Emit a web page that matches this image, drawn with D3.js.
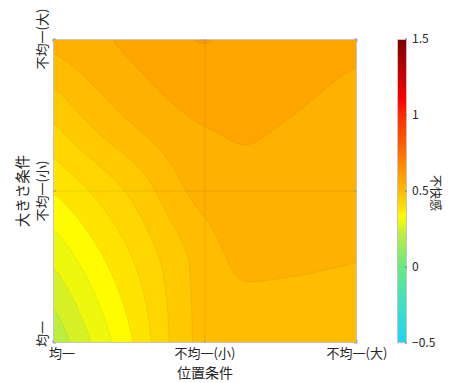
<!DOCTYPE html>
<html>
<head>
<meta charset="utf-8">
<script src="https://cdn.jsdelivr.net/npm/d3@7"></script>
<style>
  body { margin: 0; background: #fff; }
  text { font-family: "Noto Sans CJK JP", "Noto Sans", sans-serif; fill: #262626; }
</style>
</head>
<body>
<div id="chart"></div>
<script>
// tick labels of both condition axes
const xLabels = ["均一", "不均一(小)", "不均一(大)"];
const yLabels = ["均一", "不均一(小)", "不均一(大)"];

// where the values were read, in category units (0 = 均一 ... 2 = 不均一(大))
const gridX = [0, 0.5, 1, 1.25, 1.5, 2];
const gridY = [0, 0.5, 1, 1.5, 2];

// 不快感, one array per gridY row (bottom row first)
const zRow0 = [0.225, 0.372, 0.51, 0.516, 0.522, 0.525];
const zRow1 = [0.298, 0.41, 0.517, 0.545, 0.543, 0.539];
const zRow2 = [0.381, 0.465, 0.555, 0.567, 0.562, 0.555];
const zRow3 = [0.467, 0.545, 0.585, 0.588, 0.582, 0.570];
const zRow4 = [0.557, 0.588, 0.623, 0.605, 0.595, 0.586];
const zRows = [zRow0, zRow1, zRow2, zRow3, zRow4];

// colour bar
const cbTicks = [-0.5, 0, 0.5, 1, 1.5];
const cbTickLabels = ["\u22120.5", "0", "0.5", "1", "1.5"];
const levelStep = 0.04;

const cmapStops  = [-0.5, -0.25, 0, 0.22, 0.26, 0.30, 0.34, 0.38, 0.42, 0.50, 0.62, 0.8, 1.0, 1.1, 1.5];
const cmapColors = ["#1fd2f7", "#3fe0c4", "#68e880", "#bcee40", "#d6f226", "#eef80c", "#fffc00",
                    "#ffe400", "#ffd600", "#ffbc00", "#ff9a00", "#ff6000", "#ff2a00", "#ff0000", "#7c0000"];

const W = 449, H = 383;
const x0 = 53, x1 = 357, y0 = 39, y1 = 343;
const cbX = 397, cbW = 10;

const svg = d3.select("#chart").append("svg")
  .attr("width", W)
  .attr("height", H);

const x = d3.scaleLinear().domain([0, 2]).range([x0, x1]);
const y = d3.scaleLinear().domain([0, 2]).range([y1, y0]);
const color = d3.scaleLinear().domain(cmapStops).range(cmapColors).clamp(true);
const cb = d3.scaleLinear().domain([-0.5, 1.5]).range([y1, y0]);

// shape-preserving cubic (pchip) through the read values
function pchip(xs, ys) {
  const n = xs.length, h = [], dl = [], d = new Array(n);
  for (let k = 0; k < n - 1; k++) {
    h[k] = xs[k + 1] - xs[k];
    dl[k] = (ys[k + 1] - ys[k]) / h[k];
  }
  for (let k = 1; k < n - 1; k++) {
    if (dl[k - 1] * dl[k] <= 0) d[k] = 0;
    else {
      const w1 = 2 * h[k] + h[k - 1], w2 = h[k] + 2 * h[k - 1];
      d[k] = (w1 + w2) / (w1 / dl[k - 1] + w2 / dl[k]);
    }
  }
  const endSlope = (h0, h1, d0, d1) => {
    let s = ((2 * h0 + h1) * d0 - h0 * d1) / (h0 + h1);
    if (Math.sign(s) !== Math.sign(d0)) s = 0;
    else if (Math.sign(d0) !== Math.sign(d1) && Math.abs(s) > Math.abs(3 * d0)) s = 3 * d0;
    return s;
  };
  d[0] = endSlope(h[0], h[1], dl[0], dl[1]);
  d[n - 1] = endSlope(h[n - 2], h[n - 3], dl[n - 2], dl[n - 3]);
  return function(t) {
    const k = Math.max(0, Math.min(n - 2, d3.bisectRight(xs, t) - 1));
    const s = (t - xs[k]) / h[k];
    const h00 = (1 + 2 * s) * (1 - s) * (1 - s), h10 = s * (1 - s) * (1 - s);
    const h01 = s * s * (3 - 2 * s), h11 = s * s * (s - 1);
    return h00 * ys[k] + h10 * h[k] * d[k] + h01 * ys[k + 1] + h11 * h[k] * d[k + 1];
  };
}

// sample one value per pixel for the contour generator
const nx = x1 - x0 + 1, ny = y1 - y0 + 1;
const rowFns = zRows.map(r => pchip(gridX, r));
const colX = d3.range(nx).map(i => x.invert(x0 + i));
const rowSamples = rowFns.map(f => colX.map(f));
let values = new Float64Array(nx * ny);
for (let i = 0; i < nx; i++) {
  const f = pchip(gridY, rowSamples.map(r => r[i]));
  for (let j = 0; j < ny; j++) {
    values[j * nx + i] = f(y.invert(y0 + j));
  }
}

// light box blur to take the wobble out of the bands (edges clamped)
function blurPass(src, horizontal, r) {
  const out = new Float64Array(src.length);
  const len = horizontal ? nx : ny, lines = horizontal ? ny : nx;
  for (let l = 0; l < lines; l++) {
    for (let k = 0; k < len; k++) {
      let s = 0;
      for (let o = -r; o <= r; o++) {
        const kk = Math.max(0, Math.min(len - 1, k + o));
        s += horizontal ? src[l * nx + kk] : src[kk * nx + l];
      }
      if (horizontal) out[l * nx + k] = s / (2 * r + 1);
      else out[k * nx + l] = s / (2 * r + 1);
    }
  }
  return out;
}
for (let p = 0; p < 3; p++) {
  values = blurPass(values, true, 4);
  values = blurPass(values, false, 4);
}

const levels = d3.range(0, 51).map(k => Math.round((-0.5 + k * levelStep) * 1000) / 1000);
const contours = d3.contours().size([nx, ny]).thresholds(levels)(values);

const gx = d3.scaleLinear().domain([0.5, nx - 0.5]).range([x0, x1]);
const gy = d3.scaleLinear().domain([0.5, ny - 0.5]).range([y0, y1]);
const path = d3.geoPath(d3.geoTransform({
  point: function(px, py) { this.stream.point(gx(px), gy(py)); }
}));

svg.append("clipPath").attr("id", "plotclip")
  .append("rect")
  .attr("x", x0).attr("y", y0)
  .attr("width", x1 - x0).attr("height", y1 - y0);

const plot = svg.append("g").attr("clip-path", "url(#plotclip)");

plot.selectAll("path.band")
  .data(contours.filter(c => c.coordinates.length))
  .enter()
  .append("path")
  .attr("class", "band")
  .attr("d", path)
  .attr("fill", d => color(d.value))
  .attr("stroke", "#000")
  .attr("stroke-opacity", 0.13)
  .attr("stroke-width", 0.5);

// grid lines
plot.append("line")
  .attr("x1", x(1)).attr("x2", x(1)).attr("y1", y0).attr("y2", y1)
  .attr("stroke", "#000").attr("stroke-opacity", 0.07);
plot.append("line")
  .attr("x1", x0).attr("x2", x1).attr("y1", y(1)).attr("y2", y(1))
  .attr("stroke", "#000").attr("stroke-opacity", 0.07);

// box and inward ticks
svg.append("rect")
  .attr("x", x0 + 0.5).attr("y", y0 + 0.5)
  .attr("width", x1 - x0 - 1).attr("height", y1 - y0 - 1)
  .attr("fill", "none").attr("stroke", "#c4c4c4");

[0, 1, 2].forEach(k => {
  svg.append("line").attr("x1", x(k)).attr("x2", x(k)).attr("y1", y1).attr("y2", y1 - 3).attr("stroke", "#9a9a9a");
  svg.append("line").attr("x1", x(k)).attr("x2", x(k)).attr("y1", y0).attr("y2", y0 + 3).attr("stroke", "#9a9a9a");
  svg.append("line").attr("x1", x0).attr("x2", x0 + 3).attr("y1", y(k)).attr("y2", y(k)).attr("stroke", "#9a9a9a");
  svg.append("line").attr("x1", x1).attr("x2", x1 - 3).attr("y1", y(k)).attr("y2", y(k)).attr("stroke", "#9a9a9a");
});

// x tick labels
svg.append("g").selectAll("text")
  .data(xLabels)
  .enter()
  .append("text")
  .attr("x", (d, i) => x(i) + (i === 0 ? 9 : 0))
  .attr("y", 358)
  .attr("text-anchor", "middle")
  .style("font-size", "13px")
  .text(d => d);

// y tick labels
svg.append("g").selectAll("text")
  .data(yLabels)
  .enter()
  .append("text")
  .attr("transform", (d, i) => "translate(47," + (y(i) - (i === 0 ? 9 : 0)) + ")rotate(-90)")
  .attr("text-anchor", "middle")
  .style("font-size", "13px")
  .text(d => d);

// axis titles
svg.append("text")
  .attr("x", x(1)).attr("y", 378)
  .attr("text-anchor", "middle")
  .style("font-size", "14px")
  .text("位置条件");

svg.append("text")
  .attr("transform", "translate(28," + y(1) + ")rotate(-90)")
  .attr("text-anchor", "middle")
  .style("font-size", "14.5px")
  .text("大きさ条件");

// colour bar
const cbRows = d3.range(y0, y1);
svg.append("g").selectAll("rect")
  .data(cbRows)
  .enter()
  .append("rect")
  .attr("x", cbX)
  .attr("y", d => d)
  .attr("width", cbW)
  .attr("height", 1.2)
  .attr("fill", d => color(cb.invert(d + 0.5)));

svg.append("rect")
  .attr("x", cbX + 0.5).attr("y", y0 + 0.5)
  .attr("width", cbW - 1).attr("height", y1 - y0 - 1)
  .attr("fill", "none").attr("stroke", "#c4c4c4");

cbTicks.forEach(t => {
  svg.append("line").attr("x1", cbX + cbW).attr("x2", cbX + cbW - 2).attr("y1", cb(t)).attr("y2", cb(t)).attr("stroke", "#777");
});

svg.append("g").selectAll("text")
  .data(cbTicks)
  .enter()
  .append("text")
  .attr("x", 412)
  .attr("y", d => cb(d))
  .attr("dy", "0.35em")
  .style("font-size", "12px")
  .text((d, i) => cbTickLabels[i]);

svg.append("text")
  .attr("transform", "translate(431,193)rotate(90)")
  .attr("text-anchor", "middle")
  .style("font-size", "12px")
  .text("不快感");
</script>
</body>
</html>
